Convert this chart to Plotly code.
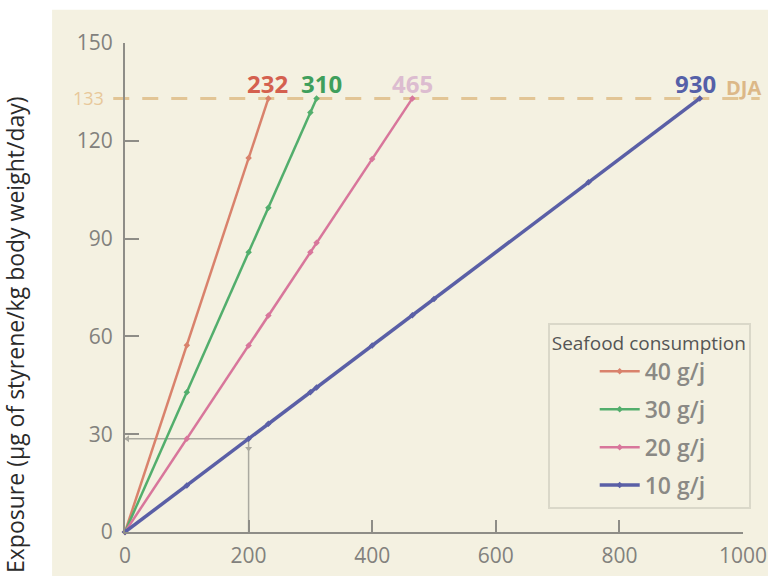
import plotly.graph_objects as go

# ---- data ----
series_names = ["40 g/j", "30 g/j", "20 g/j", "10 g/j"]
series_colors = ["#d9826c", "#52ae6c", "#d8769b", "#5a5fa6"]

x_40 = [0, 100, 200, 232]
y_40 = [0, 57.3, 114.7, 133]

x_30 = [0, 100, 200, 232, 300, 310]
y_30 = [0, 42.9, 85.8, 99.5, 128.7, 133]

x_20 = [0, 100, 200, 232, 300, 310, 400, 465]
y_20 = [0, 28.6, 57.2, 66.4, 85.8, 88.7, 114.4, 133]

x_10 = [0, 100, 200, 232, 300, 310, 400, 465, 500, 750, 930]
y_10 = [0, 14.3, 28.6, 33.2, 42.9, 44.3, 57.2, 66.5, 71.5, 107.3, 133]

limit_value = 133          # DJA
limit_label = "DJA"
end_labels = ["232", "310", "465", "930"]
end_label_colors = ["#d4604f", "#3f9f5c", "#dcbcd0", "#5560a8"]
end_label_shift = [-1, 5, 0, -4]

x_ticks = [0, 200, 400, 600, 800, 1000]
y_ticks = [0, 30, 60, 90, 120, 150]

guide_x = 200               # reading example on 10 g/j line
guide_y = y_10[x_10.index(guide_x)]

xs = [x_40, x_30, x_20, x_10]
ys = [y_40, y_30, y_20, y_10]
widths = [2.5, 2.5, 2.5, 3.5]

BEIGE = "#f4f1e1"
AXIS = "#8e8d87"
TICKTXT = "#82817d"

fig = go.Figure()

# beige panel (drawn first so that it sits under everything)
fig.add_shape(type="rect", xref="paper", yref="paper", x0=-0.118, x1=1.06,
              y0=-0.09, y1=1.068, fillcolor=BEIGE, line=dict(width=0), layer="below")
# DJA dashed line
fig.add_shape(type="line", xref="paper", yref="y", x0=-0.019, x1=1.027,
              y0=limit_value, y1=limit_value,
              line=dict(color="#e2c595", width=3, dash="16px,13px"), layer="below")

# guide lines
fig.add_trace(go.Scatter(x=[0, guide_x, guide_x], y=[guide_y, guide_y, 0], mode="lines",
                         line=dict(color="#aaa9a0", width=1.5), showlegend=False,
                         hoverinfo="skip", cliponaxis=False))
fig.add_trace(go.Scatter(x=[4], y=[guide_y], mode="markers",
                         marker=dict(symbol="triangle-left", size=6, color="#aaa9a0"),
                         showlegend=False, hoverinfo="skip", cliponaxis=False))
fig.add_trace(go.Scatter(x=[guide_x], y=[guide_y - 3], mode="markers",
                         marker=dict(symbol="triangle-down", size=6, color="#aaa9a0"),
                         showlegend=False, hoverinfo="skip", cliponaxis=False))

for i in range(4):
    fig.add_trace(go.Scatter(
        x=xs[i], y=ys[i], name=series_names[i], mode="lines+markers",
        line=dict(color=series_colors[i], width=widths[i]),
        marker=dict(color=series_colors[i], size=5, symbol="diamond"),
        legendgroup=series_names[i], cliponaxis=False))

# end labels
for i in range(4):
    fig.add_annotation(x=xs[i][-1], y=limit_value, text="<b>%s</b>" % end_labels[i],
                       showarrow=False, yanchor="bottom", yshift=-4,
                       xshift=end_label_shift[i],
                       font=dict(family="Open Sans", size=24, color=end_label_colors[i]))
fig.add_annotation(xref="paper", x=1.0016, y=limit_value, text="<b>%s</b>" % limit_label,
                   showarrow=False, xanchor="center", yanchor="bottom", yshift=-5,
                   font=dict(family="Open Sans", size=20, color="#dcb888"))
fig.add_annotation(xref="paper", x=-0.03, y=limit_value, text=str(limit_value),
                   showarrow=False, xanchor="right", yanchor="middle",
                   font=dict(family="Open Sans", size=18, color="#e8c89a"))

# y title
fig.add_annotation(xref="paper", yref="paper", x=-0.178, y=0.405,
                   xanchor="center", yanchor="middle",
                   text="Exposure (µg of styrene/kg body weight/day)", textangle=-90,
                   showarrow=False, font=dict(family="Open Sans", size=23, color="#2a2a2a"))

fig.update_layout(
    width=768, height=578,
    margin=dict(l=125, r=25, t=43, b=46),
    paper_bgcolor="white", plot_bgcolor="rgba(0,0,0,0)",
    font=dict(family="Open Sans", color=TICKTXT),
    showlegend=True,
    legend=dict(
        x=0.684, y=0.427, xanchor="left", yanchor="top",
        bgcolor=BEIGE, bordercolor="#dad8c9", borderwidth=2,
        title=dict(text="Seafood consumption",
                   font=dict(size=19, color="#555555", weight="normal")),
        font=dict(size=23, color="#8a8985", weight=600), indentation=45,
        tracegroupgap=5, itemwidth=40,
    ),
    xaxis=dict(range=[0, 1000], tickvals=x_ticks, showgrid=False, zeroline=False,
               showline=True, linecolor=AXIS, linewidth=2, ticks="inside",
               ticklen=12, tickwidth=2, tickcolor=AXIS, ticklabelstandoff=4,
               automargin=False, tickfont=dict(size=21, color=TICKTXT)),
    yaxis=dict(range=[0, 150], tickvals=y_ticks, showgrid=False, zeroline=False,
               showline=True, linecolor=AXIS, linewidth=2, ticks="inside",
               ticklen=14, tickwidth=2, tickcolor=AXIS, ticklabelstandoff=6,
               automargin=False, tickfont=dict(size=21, color=TICKTXT)),
)

fig.write_html("out.html", config={"displayModeBar": False},
               post_script="document.body.style.margin='0';document.body.style.overflow='hidden';")
